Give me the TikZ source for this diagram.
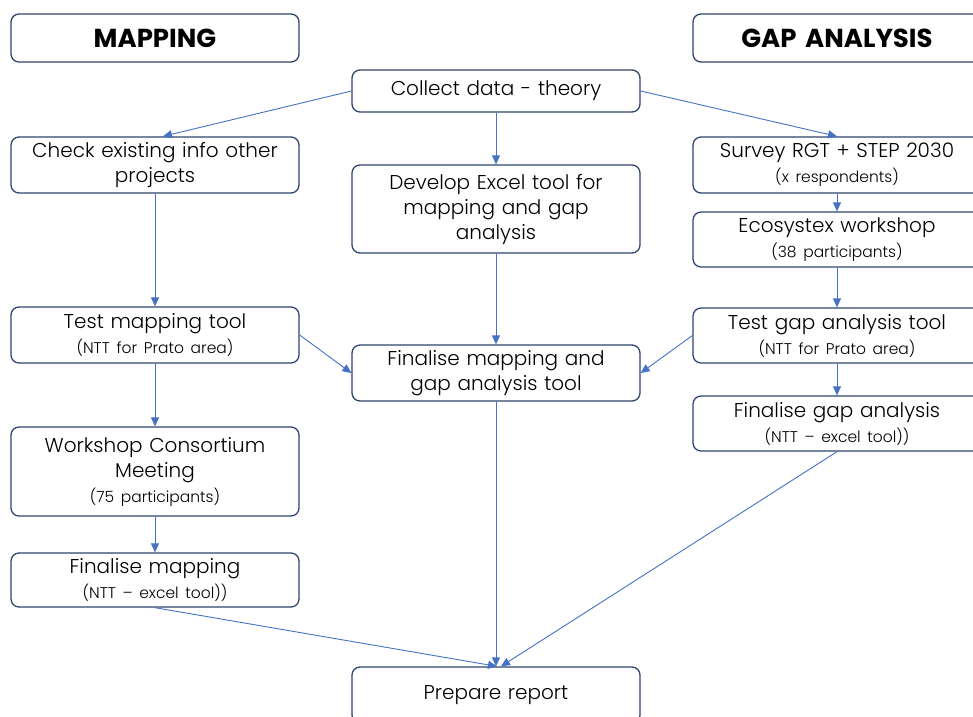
\documentclass[tikz,border=0pt]{standalone}
\usepackage{fontspec}
\setmainfont{Poppins}[UprightFont=* Light, BoldFont=* Bold]
\usetikzlibrary{arrows.meta}
\definecolor{boxline}{HTML}{2F4470}
\definecolor{arrowblue}{HTML}{4472C4}
\newcommand\subnote[1]{{\fontsize{15.5}{19}\selectfont #1}}

\begin{document}
\begin{tikzpicture}[x=1pt,y=-1pt,
  box/.style={draw=boxline, line width=1.3pt, rounded corners=8pt, fill=white,
    minimum width=288pt, text width=284pt, align=center, inner sep=0pt,
    font=\fontsize{20}{25}\selectfont},
  headbox/.style={box, font=\fontsize{26}{32}\selectfont\bfseries},
  flow/.style={draw=arrowblue, line width=0.9pt, -{Triangle[length=9pt,width=8pt]}}]
\useasboundingbox (0,0) rectangle (973,716);
\fill[white] (0,0) rectangle (973,716);
\clip (0,0) rectangle (973,716);

% column headers
\node[headbox, minimum height=48pt] (maphead) at (155,38) {MAPPING};
\node[headbox, minimum height=48pt] (gaphead) at (837,38) {GAP ANALYSIS};

% centre column
\node[box, minimum height=42pt] (collect) at (496,91) {Collect data - theory};
\node[box, minimum height=88pt] (develop) at (496,209) {Develop Excel tool for\\ mapping and gap\\ analysis};
\node[box, minimum height=56pt] (ftool) at (496,373) {Finalise mapping and\\ gap analysis tool};
\node[box, minimum height=56pt] (report) at (496,695) {Prepare report};

% mapping column
\node[box, minimum height=56pt] (check) at (155,165) {Check existing info other\\ projects};
\node[box, minimum height=56pt] (tmap) at (155,335) {Test mapping tool\\ \subnote{(NTT for Prato area)}};
\node[box, minimum height=89pt] (workshop) at (155,471.5) {Workshop Consortium\\ Meeting\\ \subnote{(75 participants)}};
\node[box, minimum height=54pt] (fmap) at (155,580) {Finalise mapping\\ \subnote{(NTT -- excel tool))}};

% gap analysis column
\node[box, minimum height=56pt] (survey) at (837,165) {Survey RGT + STEP 2030\\ \subnote{(x respondents)}};
\node[box, minimum height=55pt] (ecosys) at (837,239.5) {Ecosystex workshop\\ \subnote{(38 participants)}};
\node[box, minimum height=55pt] (tgap) at (837,335.5) {Test gap analysis tool\\ \subnote{(NTT for Prato area)}};
\node[box, minimum height=55pt] (fgap) at (837,423.5) {Finalise gap analysis\\ \subnote{(NTT -- excel tool))}};

% connectors
\draw[flow] (collect.west) -- ([xshift=8pt]check.north);
\draw[flow] (collect.east) -- (survey.north);
\draw[flow] (collect) -- (develop);
\draw[flow] (develop) -- (ftool);
\draw[flow] (check) -- (tmap);
\draw[flow] (tmap) -- (workshop);
\draw[flow] (workshop) -- (fmap);
\draw[flow] (tmap.east) -- (ftool.west);
\draw[flow] (survey) -- (ecosys);
\draw[flow] (ecosys) -- (tgap);
\draw[flow] (tgap) -- (fgap);
\draw[flow] (tgap.west) -- (ftool.east);
\draw[flow] (ftool) -- (report);
\draw[flow] (fmap.south) -- ([xshift=1pt]report.north);
\draw[flow] (fgap.south) -- ([xshift=5pt]report.north);
\end{tikzpicture}
\end{document}
